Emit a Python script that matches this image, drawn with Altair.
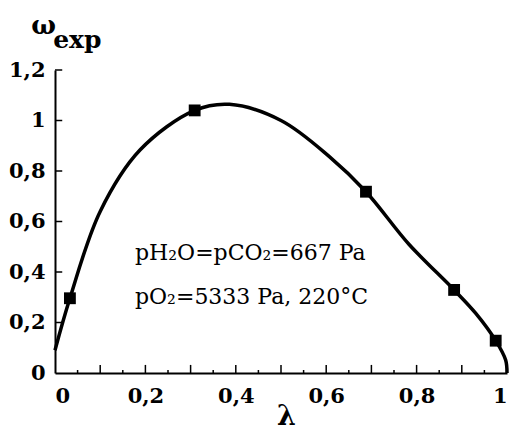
import altair as alt
import pandas as pd

# measured points
lam_pts = [0.033, 0.309, 0.688, 0.883, 0.975]
w_pts = [0.296, 1.040, 0.718, 0.329, 0.128]

# fitted curve
curve_x = [0.0, 0.033, 0.1, 0.188, 0.309, 0.386, 0.5, 0.607, 0.688, 0.783,
           0.883, 0.931, 0.975, 0.997, 1.0]
curve_y = [0.09, 0.296, 0.64, 0.883, 1.040, 1.064, 1.0, 0.857, 0.718, 0.51,
           0.329, 0.236, 0.128, 0.051, 0.0]

x_major = [0.1, 0.2, 0.3, 0.4, 0.5, 0.6, 0.7, 0.8, 0.9, 1.0]
x_minor = [0.05, 0.15, 0.25, 0.35, 0.45, 0.55, 0.65, 0.75, 0.85, 0.95]
y_major = [0.2, 0.4, 0.6, 0.8, 1.0, 1.2]

note_lines = ["pH\u2082O=pCO\u2082=667 Pa", "pO\u2082=5333 Pa, 220°C"]
note_y = [0.475, 0.301]

FONT = "DejaVu Serif"

pts = pd.DataFrame({"lam": lam_pts, "w": w_pts})
curve = pd.DataFrame({"lam": curve_x, "w": curve_y})
xmaj = pd.DataFrame({"t": x_major})
xmin = pd.DataFrame({"t": x_minor})
ymaj = pd.DataFrame({"t": y_major})
notes = pd.DataFrame({"txt": note_lines, "y": note_y})

xs = alt.Scale(domain=[0, 1], nice=False)
ys = alt.Scale(domain=[0, 1.2], nice=False)

lab = "replace(format(datum.value, '~g'), '.', ',')"

base_line = alt.Chart(curve).mark_line(
    color="black", strokeWidth=3.5, interpolate="catmull-rom"
).encode(
    x=alt.X("lam:Q", scale=xs, axis=alt.Axis(
        values=[0, 0.2, 0.4, 0.6, 0.8, 1.0], labelExpr=lab, ticks=False,
        grid=False, domainColor="black", domainWidth=2,
        labelFont=FONT, labelFontSize=21, labelFontWeight="bold",
        labelColor="black", labelPadding=12,
        title="λ", titleFont=FONT, titleFontSize=27, titleFontWeight="bold",
        titleColor="black", titleX=231, titleY=43, titleBaseline="middle",
        titleAlign="center")),
    y=alt.Y("w:Q", scale=ys, axis=alt.Axis(
        values=[0, 0.2, 0.4, 0.6, 0.8, 1.0, 1.2], labelExpr=lab, ticks=False,
        grid=False, domainColor="black", domainWidth=2,
        labelFont=FONT, labelFontSize=21, labelFontWeight="bold",
        labelColor="black", labelPadding=10,
        title="ω", titleFont=FONT, titleFontSize=26, titleFontWeight="bold",
        titleColor="black", titleAngle=0, titleX=-12, titleY=-45,
        titleAlign="center", titleBaseline="middle")),
)

points = alt.Chart(pts).mark_point(
    shape="square", filled=True, size=140, color="black", opacity=1
).encode(x=alt.X("lam:Q", scale=xs), y=alt.Y("w:Q", scale=ys))

xt_major = alt.Chart(xmaj).mark_rule(color="black", strokeWidth=1.5).encode(
    x=alt.X("t:Q", scale=xs), y=alt.datum(0), y2=alt.datum(0.032))
xt_minor = alt.Chart(xmin).mark_rule(color="black", strokeWidth=1.5).encode(
    x=alt.X("t:Q", scale=xs), y=alt.datum(0), y2=alt.datum(0.012))
yt_major = alt.Chart(ymaj).mark_rule(color="black", strokeWidth=1.5).encode(
    y=alt.Y("t:Q", scale=ys), x=alt.datum(0), x2=alt.datum(0.016))

note_text = alt.Chart(notes).mark_text(
    font=FONT, fontSize=22, align="left", baseline="middle", color="black"
).encode(x=alt.datum(0.177), y=alt.Y("y:Q", scale=ys), text="txt:N")

exp_text = alt.Chart(pd.DataFrame({"s": ["exp"]})).mark_text(
    font=FONT, fontSize=25, fontWeight="bold", align="left", baseline="middle",
    color="black"
).encode(x=alt.datum(-0.004), y=alt.datum(1.32), text="s:N")

chart = alt.layer(
    base_line, points, xt_major, xt_minor, yt_major, note_text, exp_text
).properties(
    width=452, height=303,
    autosize=alt.AutoSizeParams(type="none"),
    padding={"left": 47, "top": 62, "right": 5, "bottom": 56},
).configure_view(stroke=None)

chart.save("out.html", embed_options={"renderer": "svg", "actions": False})
